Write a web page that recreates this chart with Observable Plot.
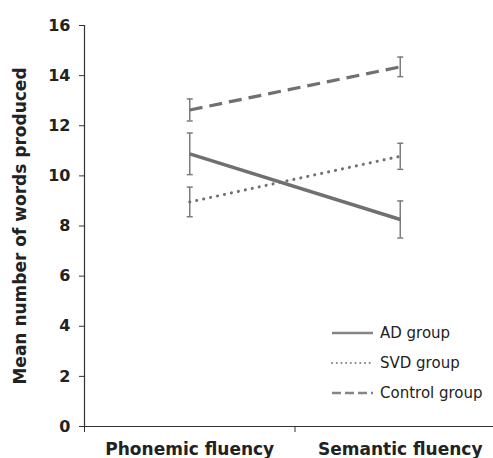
<!DOCTYPE html>
<html>
<head>
<meta charset="utf-8">
<script src="https://cdn.jsdelivr.net/npm/d3@7"></script>
<script src="https://cdn.jsdelivr.net/npm/@observablehq/plot@0.6"></script>
<style>
  html, body { margin: 0; padding: 0; background: #fff; overflow: hidden; }
  #wrap { position: relative; width: 493px; height: 458px; }
  #legend { position: absolute; left: 0; top: 0; }
</style>
</head>
<body>
<div id="wrap"></div>
<script>
// ---- data ----
const tasks = ["Phonemic fluency", "Semantic fluency"];
const groups = ["AD group", "SVD group", "Control group"];
const adMeans = [10.88, 8.26];
const adErr = [0.83, 0.74];
const svdMeans = [8.96, 10.78];
const svdErr = [0.59, 0.52];
const controlMeans = [12.63, 14.35];
const controlErr = [0.44, 0.39];
const yTicks = [0, 2, 4, 6, 8, 10, 12, 14, 16];
const yLabel = "Mean number of words produced";

// ---- build table ----
const series = [
  {group: groups[0], means: adMeans, errs: adErr},
  {group: groups[1], means: svdMeans, errs: svdErr},
  {group: groups[2], means: controlMeans, errs: controlErr}
];
const rows = series.flatMap(s => tasks.map((t, i) => ({
  group: s.group, task: t, pos: i + 0.5, mean: s.means[i], lo: s.means[i] - s.errs[i], hi: s.means[i] + s.errs[i]
})));

const styles = {
  "AD group": {dash: null, width: 3.5, cap: "butt"},
  "SVD group": {dash: "0.1 7", width: 3, cap: "round"},
  "Control group": {dash: "13 7", width: 3.2, cap: "butt"}
};

const capSymbol = {
  draw(context, size) {
    const r = Math.sqrt(size / Math.PI);
    context.moveTo(-r, 0);
    context.lineTo(r, 0);
  }
};

const lineColor = "#707070";
const errColor = "#7c7c7c";
const ink = "#222";

const lineMarks = groups.map(g => Plot.line(rows.filter(d => d.group === g), {
  x: "pos", y: "mean", stroke: lineColor, strokeWidth: styles[g].width,
  strokeDasharray: styles[g].dash, strokeLinecap: styles[g].cap
}));

const chart = Plot.plot({
  width: 493,
  height: 458,
  marginTop: 25,
  marginBottom: 32,
  marginLeft: 84,
  marginRight: 0,
  style: {fontFamily: "DejaVu Sans", color: ink, background: "#fff"},
  x: {domain: [0, 2], range: [84, 505], axis: null},
  y: {domain: [0, 16], axis: null},
  marks: [
    Plot.ruleX(rows, {x: "pos", y1: "lo", y2: "hi", stroke: errColor, strokeWidth: 1.5}),
    Plot.dot(rows, {x: "pos", y: "lo", symbol: capSymbol, r: 3, stroke: errColor, strokeWidth: 1.5}),
    Plot.dot(rows, {x: "pos", y: "hi", symbol: capSymbol, r: 3, stroke: errColor, strokeWidth: 1.5}),
    ...lineMarks,
    Plot.axisY({ticks: yTicks, tickSize: 5, tickPadding: 9, label: null, fontSize: 16, fontWeight: "bold", stroke: "#333", fill: ink}),
    Plot.axisX({ticks: [0, 1, 2], tickFormat: () => "", tickSize: 6, label: null, stroke: "#333"}),
    Plot.axisX({ticks: tasks.map((t, i) => i + 0.5), tickFormat: d => tasks[d - 0.5], tickSize: 0, tickPadding: 16, label: null, fontSize: 17, fontWeight: "bold", fill: ink}),
    Plot.ruleX([0], {stroke: "#333", strokeWidth: 1.2}),
    Plot.ruleY([0], {stroke: "#333", strokeWidth: 1.2}),
    Plot.text([yLabel], {text: d => d, frameAnchor: "left", textAnchor: "middle", rotate: -90, dx: -64, fontSize: 17, fontWeight: "bold", fill: ink})
  ]
});
document.getElementById("wrap").appendChild(chart);

// ---- legend (overlay) ----
const leg = d3.select("#wrap").append("svg")
  .attr("id", "legend").attr("width", 493).attr("height", 458)
  .style("left", "0px").style("top", "0px")
  .attr("font-family", "DejaVu Sans");
const legendLine = {
  "AD group": {dash: null, width: 2.6, cap: "butt"},
  "SVD group": {dash: "0.1 4.6", width: 2, cap: "round"},
  "Control group": {dash: "9 4", width: 2.6, cap: "butt"}
};
const lg = leg.append("g").attr("transform", "translate(332,333)");
groups.forEach((g, i) => {
  const row = lg.append("g").attr("transform", `translate(0,${i * 30})`);
  row.append("line").attr("x1", 0).attr("x2", 41).attr("y1", 0).attr("y2", 0)
    .attr("stroke", "#858585").attr("stroke-width", legendLine[g].width)
    .attr("stroke-dasharray", legendLine[g].dash).attr("stroke-linecap", legendLine[g].cap);
  row.append("text").attr("x", 48).attr("y", 0).attr("dy", "0.36em")
    .attr("font-size", 15).attr("fill", ink).text(g);
});
</script>
</body>
</html>
